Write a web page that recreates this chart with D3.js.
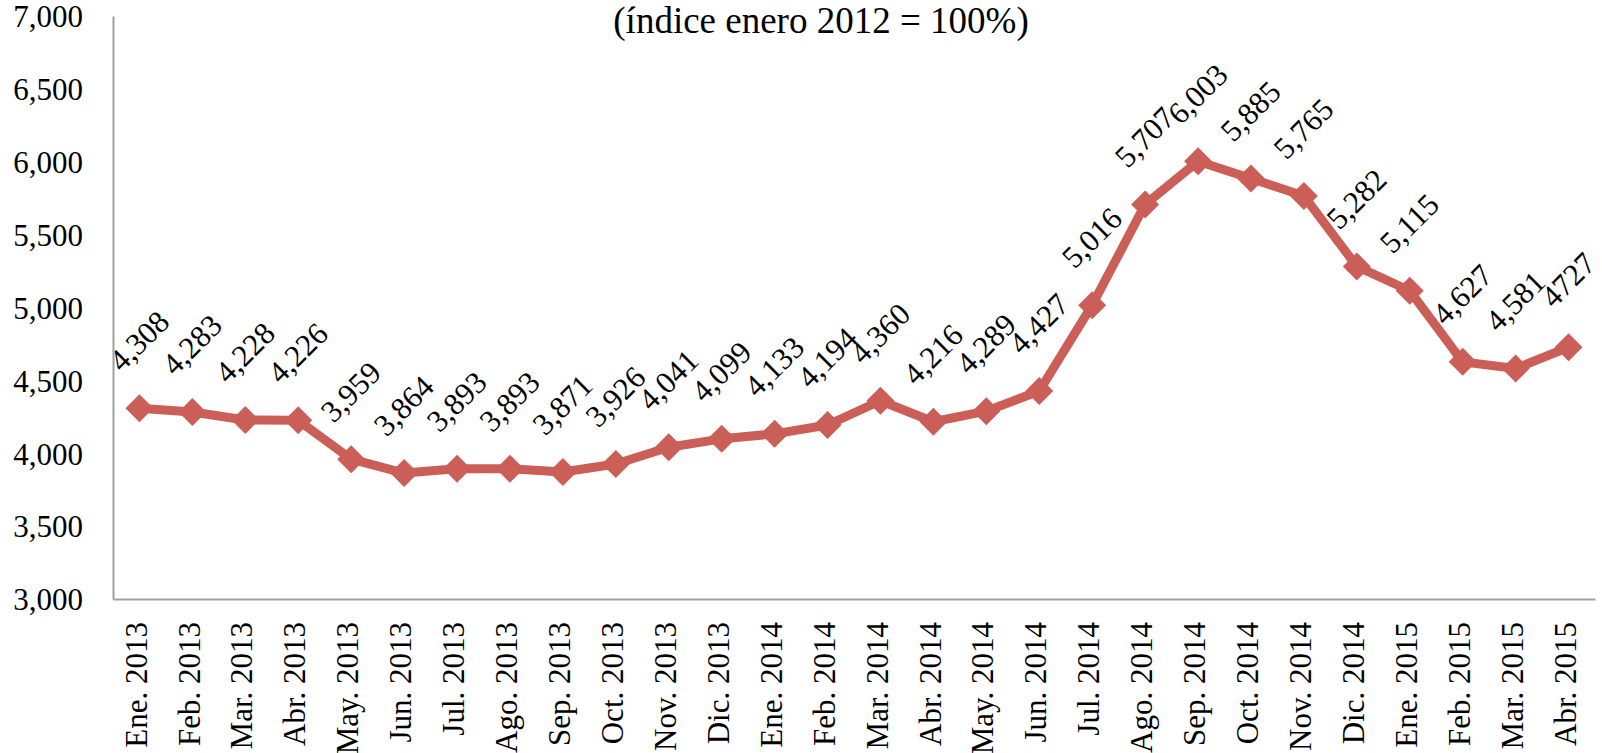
<!DOCTYPE html>
<html>
<head>
<meta charset="utf-8">
<script src="https://cdn.jsdelivr.net/npm/d3@7"></script>
<style>
  html, body { margin: 0; padding: 0; background: #fff; }
  svg text { font-family: "Liberation Serif", "Times New Roman", serif; fill: #000; }
</style>
</head>
<body>
<div id="chart"></div>
<script>
const months = ["Ene. 2013", "Feb. 2013", "Mar. 2013", "Abr. 2013", "May. 2013", "Jun. 2013",
  "Jul. 2013", "Ago. 2013", "Sep. 2013", "Oct. 2013", "Nov. 2013", "Dic. 2013",
  "Ene. 2014", "Feb. 2014", "Mar. 2014", "Abr. 2014", "May. 2014", "Jun. 2014",
  "Jul. 2014", "Ago. 2014", "Sep. 2014", "Oct. 2014", "Nov. 2014", "Dic. 2014",
  "Ene. 2015", "Feb. 2015", "Mar. 2015", "Abr. 2015"];
const values = [4308, 4283, 4228, 4226, 3959, 3864, 3893, 3893, 3871, 3926, 4041, 4099,
  4133, 4194, 4360, 4216, 4289, 4427, 5016, 5707, 6003, 5885, 5765, 5282,
  5115, 4627, 4581, 4727];
// the last label has no thousands separator in the original
const labels = values.map((v, i) => i === values.length - 1 ? String(v) : d3.format(",")(v));
const yTicks = [3000, 3500, 4000, 4500, 5000, 5500, 6000, 6500, 7000];
const title = "(índice enero 2012 = 100%)";

drawChart();

function drawChart() {
  const width = 1602, height = 753;
  const margin = { left: 113, top: 16, right: 7, bottom: 154 };
  const innerWidth = width - margin.left - margin.right;
  const innerHeight = height - margin.top - margin.bottom;
  const red = "#CB5F57";

  const svg = d3.select("#chart").append("svg")
    .attr("width", width)
    .attr("height", height);

  svg.append("text")
    .attr("x", 821)
    .attr("y", 33)
    .attr("text-anchor", "middle")
    .style("font-size", "37px")
    .text(title);

  const g = svg.append("g")
    .attr("transform", `translate(${margin.left},${margin.top})`);

  const x = d3.scaleBand().domain(months).range([0, innerWidth]);
  const y = d3.scaleLinear().domain([3000, 7000]).range([innerHeight, 0]);

  // y axis
  const yG = g.append("g")
    .call(d3.axisLeft(y).tickValues(yTicks).tickFormat(d3.format(",")).tickSize(0).tickPadding(30));
  yG.select(".domain").attr("stroke", "#A0A0A0").attr("stroke-width", 2);
  yG.selectAll("text").style("font-size", "31px").attr("dy", "0.35em");

  // x axis
  const xG = g.append("g")
    .attr("transform", `translate(0,${innerHeight})`)
    .call(d3.axisBottom(x).tickSize(0).tickPadding(0));
  xG.select(".domain").attr("stroke", "#A0A0A0").attr("stroke-width", 2);
  xG.selectAll("text")
    .style("font-size", "31px")
    .attr("text-anchor", "end")
    .attr("dy", null)
    .attr("transform", "translate(0,23) rotate(-90)")
    .attr("x", 0)
    .attr("y", 0)
    .attr("dominant-baseline", "middle");

  const cx = (d, i) => x(months[i]) + x.bandwidth() / 2;

  const line = d3.line()
    .x((d, i) => cx(d, i))
    .y((d) => y(d));

  g.append("path")
    .datum(values)
    .attr("fill", "none")
    .attr("stroke", red)
    .attr("stroke-width", 9)
    .attr("stroke-linejoin", "round")
    .attr("d", line);

  g.selectAll(".marker")
    .data(values)
    .join("path")
    .attr("class", "marker")
    .attr("d", "M0,-14L14,0L0,14L-14,0Z")
    .attr("fill", red)
    .attr("transform", (d, i) => `translate(${cx(d, i)},${y(d)})`);

  g.selectAll(".lbl")
    .data(values)
    .join("text")
    .attr("class", "lbl")
    .attr("text-anchor", "middle")
    .attr("dominant-baseline", "middle")
    .style("font-size", "31px")
    .attr("transform", (d, i) => `translate(${cx(d, i) + 2},${y(d) - 65}) rotate(-45)`)
    .text((d, i) => labels[i]);
}
</script>
</body>
</html>
